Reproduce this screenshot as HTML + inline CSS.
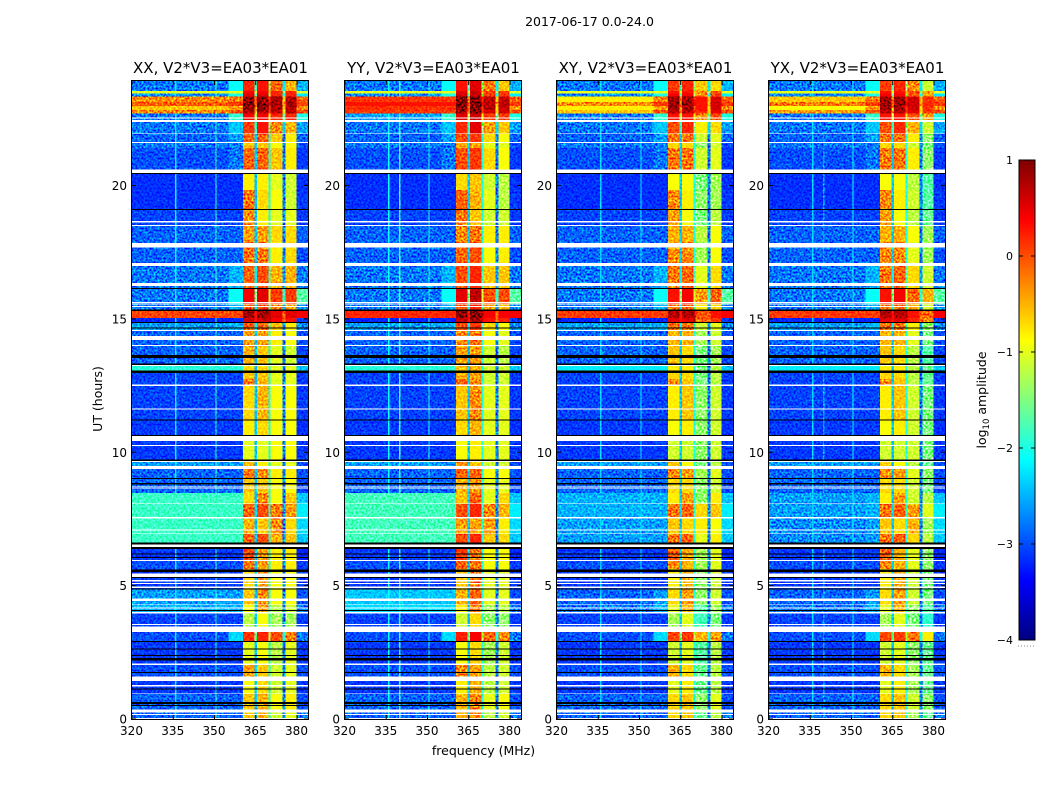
<!DOCTYPE html>
<html lang="en">
<head>
<meta charset="utf-8">
<title>2017-06-17 waterfall</title>
<style>
html,body{margin:0;padding:0;background:#fff;}
svg{display:block;}
text{font-family:"DejaVu Sans","Liberation Sans",sans-serif;fill:#000;}
</style>
</head>
<body>
<svg id="chart" xmlns="http://www.w3.org/2000/svg" width="1050" height="800" viewBox="0 0 1050 800">
<defs>
<linearGradient id="jetGradient" x1="0" y1="1" x2="0" y2="0"></linearGradient>
<filter id="speckle" x="0" y="0" width="100%" height="100%" color-interpolation-filters="sRGB">
<feTurbulence type="fractalNoise" baseFrequency="0.5" numOctaves="2" seed="7"/>
<feColorMatrix type="matrix" values="2.2 0 0 0 -0.6  2.2 0 0 0 -0.6  2.2 0 0 0 -0.6  0 0 0 0 1"/>
</filter>
</defs>
<rect x="0" y="0" width="1050" height="800" fill="#fff"/>
<text x="589.5" y="26" font-size="12.5" text-anchor="middle">2017-06-17 0.0-24.0</text>
<text x="483.5" y="755" font-size="12.5" text-anchor="middle">frequency (MHz)</text>
<text transform="translate(102,399) rotate(-90)" font-size="12.5" text-anchor="middle">UT (hours)</text>
<text transform="translate(986,400) rotate(-90)" font-size="12.5" text-anchor="middle">log<tspan font-size="8.5" dy="3">10</tspan><tspan dy="-3"> amplitude</tspan></text>
</svg>
<script>
// ---- chart data (log10 amplitude per time band, bottom to top) ----
const polarizations = ["XX", "YY", "XY", "YX"];
const panelTitles = ["XX, V2*V3=EA03*EA01", "YY, V2*V3=EA03*EA01", "XY, V2*V3=EA03*EA01", "YX, V2*V3=EA03*EA01"];
const freqTicks = [320, 335, 350, 365, 380];
const hourTicks = [0, 5, 10, 15, 20];
const colorTicks = [-4, -3, -2, -1, 0, 1];
const freqEdges = [320, 355, 360.4, 364.6, 365.4, 369.7, 370.4, 374.7, 375.8, 379.9, 384];
const hourEdges = [0,.34,.94,1.42,2.02,2.89,3.27,3.97,4.27,4.87,5.62,5.92,6.56,6.93,7.53,8.06,8.47,9.00,9.37,9.67,10.42,11.21,12.48,12.74,13.01,13.31,13.98,14.54,14.84,15.03,15.29,15.55,16.12,16.98,17.88,18.48,19.08,19.83,20.46,21.40,21.59,21.93,22.38,22.71,22.83,22.98,23.13,23.33,23.46,23.54,23.92];
const backgroundXX = [-2.9,-2.9,-3.1,-3,-3.1,-3,-3.05,-2.5,-2.6,-3.1,-3,-3.1,-1.85,-1.85,-1.85,-1.85,-2.9,-2.9,-2.6,-3.1,-3.1,-3.05,-3.05,-3.05,-1.95,-2.9,-2.9,-2.6,-3.2,.05,-2.8,-2.8,-2.8,-2.9,-2.9,-3.05,-3.15,-3.15,-3,-2.8,-2.9,-2.8,-2.8,-.3,-.6,-.05,-.3,-2.7,-1,-2.8];
const backgroundYY = [-2.9,-2.9,-3.1,-3,-3.1,-3,-3.05,-2.3,-2.4,-3.1,-3,-3.1,-1.8,-1.8,-1.8,-1.8,-2.9,-2.9,-2.6,-3.1,-3.1,-3.05,-3.05,-3.05,-1.95,-2.9,-2.9,-2.6,-3.2,.2,-2.8,-2.8,-2.8,-2.9,-2.9,-3.05,-3.15,-3.15,-3,-2.8,-2.9,-2.8,-2.6,.1,.15,.3,.1,-2.7,-1,-2.8];
const backgroundXY = [-2.9,-2.9,-3.1,-3,-3.1,-3,-3.05,-2.8,-2.9,-3.1,-3,-3.1,-2.6,-2.6,-2.5,-2.5,-2.9,-2.9,-2.6,-3.1,-3.1,-3.05,-3.05,-3.05,-2.2,-2.9,-2.9,-2.6,-3.2,.1,-2.8,-2.8,-2.8,-2.9,-2.9,-3.05,-3.15,-3.15,-3,-2.8,-2.9,-2.8,-2.8,-.6,-.8,-.3,-.8,-2.7,-1,-2.8];
const backgroundYX = [-2.9,-2.9,-3.1,-3,-3.1,-3,-3.05,-2.8,-2.9,-3.1,-3,-3.1,-2.7,-2.7,-2.6,-2.6,-2.9,-2.9,-2.6,-3.1,-3.1,-3.05,-3.05,-3.05,-2.2,-2.9,-2.9,-2.6,-3.2,.1,-2.8,-2.8,-2.8,-2.9,-2.9,-3.05,-3.15,-3.15,-3,-2.8,-2.9,-2.8,-2.8,-.4,-.9,-.2,-.6,-2.7,-1,-2.8];
const rampLevels = [-3.5,-3.5,-3.5,-3.5,-3.5,-2.3,-3.5,-2.5,-2.6,-3.5,-3.5,-3.5,-2.6,-2.6,-2.5,-2.5,-3.5,-3.5,-3.5,-3.5,-3.5,-3.5,-3.5,-3.5,-2.2,-3.5,-3.5,-2.5,-3.5,-.1,-2.5,-2.1,-2.5,-3.5,-3.5,-3.5,-3.5,-3.5,-2.8,-3.5,-2.6,-2.4,-1.9,0,-.4,.1,-.2,-2,-1,-2.1];
const bandA = [-.6,-.6,-.9,-.4,-1,.15,-1.2,-.9,-.6,-.7,-.2,0,-.1,-.5,-.1,-.7,-.6,-.2,-.5,-1,-.8,-.7,-.2,-.6,-.7,-.5,-.4,-.1,.6,.85,-.1,.4,-.1,-.2,-.4,-.3,-.2,-.8,-.1,-.6,-.1,.1,.4,.8,.9,1,.95,.5,.4,.2];
const bandB = [-.5,-.5,-.7,-.6,-.9,.2,-.9,-.4,-.3,-.4,-.4,-.4,0,-.6,0,-.3,-.6,-.3,-.8,-1,-.7,-.5,-.5,-.6,-.7,-.6,-.4,-.1,.6,.85,0,.5,0,-.2,-.4,-.8,-.7,-.8,-.1,-.6,-.1,.3,.4,.8,.9,1,.95,.5,.4,.3];
const bandC = [-1.1,-.9,-1.1,-1.1,-1.2,0,-1.3,-1.2,-.9,-.9,-.8,-.8,-.5,-.3,-.2,-.9,-.9,-.8,-1,-.9,-.9,-.9,-1,-1,-1,-1,-.8,-.6,.4,.5,-.3,.1,-.5,-.8,-.7,-1,-.9,-1,-.6,-.9,-.6,-.3,.2,.7,.8,.8,.8,.2,.2,-.1];
const bandD = [-1,-.8,-1,-1,-1,-.2,-1.3,-1.1,-.9,-.9,-.8,-.8,-.6,-.7,-.4,-.6,-.9,-.8,-1,-.9,-.9,-.9,-1,-1,-1,-1.1,-.9,-.8,.3,.5,-.5,.1,-.5,-.7,-.7,-1,-1.1,-1.1,-.8,-.9,-.8,-.5,.2,.7,.75,.8,.75,.2,.2,-.5];
const rightEdgeLevels = [-2.8,-3,-3.1,-3,-3.1,-2.8,-3.1,-2.8,-3,-3.1,-3.1,-3.2,-2.4,-2.3,-2.2,-2.4,-3.05,-3,-3,-3.1,-3.15,-3.1,-3.1,-3.1,-2.4,-3.05,-3,-2.7,-3.1,.4,-2.7,-1.7,-2.8,-3,-2.9,-3.1,-3.1,-3.15,-3.1,-3,-2.9,-2.6,-2,0,-.3,.1,-.1,-2.2,-1,-2.5];
const notchLevels = [-2.4,-2.4,-2.4,-2.4,-2.4,-1.6,-2.4,-2.4,-2.4,-2.4,-2.4,-2.4,-2.4,-2.4,-2.3,-2.4,-2.4,-2.4,-2.4,-2.4,-2.4,-2.4,-2.4,-2.4,-2.4,-2.4,-2.4,-2.2,.3,.3,-2.2,-1.5,-2.2,-2.4,-2.4,-2.4,-2.4,-2.4,-2.4,-2.4,-2.4,-1.9,-1.2,-.3,-.3,0,-.2,-1.7,-1,-1.8];
const notchOffsets = [0, .4, -.4];
const bandOffsetsXX = [0, 0, 0, 0];
const bandOffsetsYY = [.1, .2, -.1, -.1];
const bandOffsetsXY = [-.1, -.1, -.5, -.2];
const bandOffsetsYX = [-.1, -.1, -.2, -.6];
const rfiFreqs = [335.7, 339.7, 350.4];
const rfiWidth = 0.4;
const rfiLevelsXX = [-2.2, -3.5, -1.9];
const rfiLevelsYY = [-2.1, -1.9, -2];
const rfiLevelsXY = [-2.3, -3.5, -2.2];
const rfiLevelsYX = [-2.3, -2.6, -2.1];
const maskedStart = [0,.15,.24,.93,1.21,1.42,2.02,3.27,3.52,3.96,4.14,4.27,4.43,4.92,5.06,5.15,5.33,5.92,6.44,6.93,7.07,7.52,8.06,8.62,8.68,9.38,9.64,10.24,10.42,11.61,12.48,13.23,13.98,14.21,14.54,15.44,15.57,16.23,16.98,17.68,18.48,18.61,20.46,21.59,21.93,22.39,22.51];
const maskedEnd = [.04,.19,.36,.96,1.27,1.59,2.09,3.46,3.56,4.01,4.18,4.30,4.52,4.96,5.10,5.21,5.46,5.96,6.55,6.96,7.10,7.58,8.08,8.65,8.71,9.48,9.68,10.28,10.61,11.65,12.55,13.28,14.02,14.36,14.58,15.48,15.64,16.35,17.10,17.85,18.53,18.67,20.60,21.63,21.96,22.45,22.56];
const zeroStart = [.5,.56,.60,1.11,1.74,2.19,2.36,2.61,2.89,4.05,4.86,5.29,5.51,6.05,6.17,6.37,6.55,8.80,9.0,9.68,10.61,11.2,12.98,13.28,13.54,14.64,14.84,15.29,16.12,19.08,20.45];
const zeroEnd = [.53,.60,.64,1.15,1.77,2.28,2.40,2.65,2.93,4.09,4.90,5.33,5.61,6.08,6.20,6.44,6.62,8.85,9.04,9.73,10.65,11.23,13.06,13.33,13.64,14.67,14.88,15.35,16.15,19.12,20.48];

const backgroundByPol = {XX: backgroundXX, YY: backgroundYY, XY: backgroundXY, YX: backgroundYX};
const bandOffsetsByPol = {XX: bandOffsetsXX, YY: bandOffsetsYY, XY: bandOffsetsXY, YX: bandOffsetsYX};
const rfiLevelsByPol = {XX: rfiLevelsXX, YY: rfiLevelsYY, XY: rfiLevelsXY, YX: rfiLevelsYX};

// ---- layout & scales ----
const NS = "http://www.w3.org/2000/svg";
const svg = document.getElementById("chart");
const plotTop = 81, plotBottom = 719, plotWidth = 176;
const panelLefts = [132, 345, 557, 769];
const freqMin = 320, freqMax = 384, hourMax = 23.92;
const colorMin = -4, colorMax = 1;
function xScale(left, f) { return left + (f - freqMin) / (freqMax - freqMin) * plotWidth; }
function yScale(h) { return plotBottom - h / hourMax * (plotBottom - plotTop); }
function clip01(v) { return Math.max(0, Math.min(1, v)); }
function jet(x) {
  const t = clip01(x);
  const r = clip01(1.5 - Math.abs(4 * t - 3));
  const g = clip01(1.5 - Math.abs(4 * t - 2));
  const b = clip01(1.5 - Math.abs(4 * t - 1));
  return "rgb(" + Math.round(r * 255) + "," + Math.round(g * 255) + "," + Math.round(b * 255) + ")";
}
function colorOf(v) { return jet((v - colorMin) / (colorMax - colorMin)); }
function make(tag, attrs, parent) {
  const el = document.createElementNS(NS, tag);
  for (const k in attrs) el.setAttribute(k, attrs[k]);
  (parent || svg).appendChild(el);
  return el;
}
function minusText(v) { return v < 0 ? "\u2212" + Math.abs(v) : String(v); }

polarizations.forEach(function (pol, p) {
  const left = panelLefts[p];
  const g = make("g", {"shape-rendering": "crispEdges"});
  
  
  const bg = backgroundByPol[pol];
  const off = bandOffsetsByPol[pol];
  const rfi = rfiLevelsByPol[pol];
  for (let r = 0; r < hourEdges.length - 1; r++) {
    const levels = [
      bg[r],
      Math.max(bg[r], rampLevels[r]),
      bandA[r] + off[0],
      notchLevels[r] + notchOffsets[0],
      bandB[r] + off[1],
      notchLevels[r] + notchOffsets[1],
      bandC[r] + off[2],
      notchLevels[r] + notchOffsets[2],
      bandD[r] + off[3],
      rightEdgeLevels[r]
    ];
    const y1 = yScale(hourEdges[r + 1]), y0 = yScale(hourEdges[r]);
    levels.forEach(function (v, c) {
      const x0 = xScale(left, freqEdges[c]), x1 = xScale(left, freqEdges[c + 1]);
      const cell = make("rect", {x: x0.toFixed(2), y: y1.toFixed(2), width: (x1 - x0).toFixed(2), height: (y0 - y1).toFixed(2), fill: colorOf(v)}, g);
      
      
    });
    rfiFreqs.forEach(function (f, k) {
      if (rfi[k] > bg[r] + 0.2) {
        const x0 = xScale(left, f);
        const line = make("rect", {x: x0.toFixed(2), y: y1.toFixed(2), width: (rfiWidth / (freqMax - freqMin) * plotWidth).toFixed(2), height: (y0 - y1).toFixed(2), fill: colorOf(rfi[k])}, g);
        
        
      }
    });
  }
  const texture = make("rect", {x: left, y: plotTop, width: plotWidth, height: plotBottom - plotTop, filter: "url(#speckle)", style: "mix-blend-mode:overlay"});
  
  
  const flags = make("g", {"shape-rendering": "crispEdges"});
  
  
  maskedStart.forEach(function (h, i) {
    const y1 = yScale(maskedEnd[i]), y0 = yScale(h);
    const m = make("rect", {x: left, y: y1.toFixed(2), width: plotWidth, height: (y0 - y1).toFixed(2), fill: "#fff"}, flags);
    
    
  });
  zeroStart.forEach(function (h, i) {
    const y1 = yScale(zeroEnd[i]), y0 = yScale(h);
    const m = make("rect", {x: left, y: y1.toFixed(2), width: plotWidth, height: Math.max(y0 - y1, 1).toFixed(2), fill: "#000"}, flags);
    
    
  });

  const frame = make("rect", {x: left - 0.5, y: plotTop - 0.5, width: plotWidth + 1, height: plotBottom - plotTop + 1, fill: "none", stroke: "#000", "stroke-width": 1});
  
  

  const title = make("text", {x: left + plotWidth / 2 + 0.5, y: 73, "font-size": 15, "text-anchor": "middle"});
  
  
  title.textContent = panelTitles[p];

  freqTicks.forEach(function (f) {
    const x = xScale(left, f);
    const t1 = make("line", {x1: x, x2: x, y1: plotBottom, y2: plotBottom - 4, stroke: "#000", "stroke-width": 1});
    
    
    const t2 = make("line", {x1: x, x2: x, y1: plotTop, y2: plotTop + 4, stroke: "#000", "stroke-width": 1});
    
    
    const lab = make("text", {x: x - 0.5, y: 735, "font-size": 12, "text-anchor": "middle"});
    
    
    lab.textContent = f;
  });
  hourTicks.forEach(function (h) {
    const y = yScale(h);
    const t1 = make("line", {x1: left, x2: left + 4, y1: y, y2: y, stroke: "#000", "stroke-width": 1});
    
    
    const t2 = make("line", {x1: left + plotWidth, x2: left + plotWidth - 4, y1: y, y2: y, stroke: "#000", "stroke-width": 1});
    
    
    const lab = make("text", {x: left - 5, y: y + 4.5, "font-size": 12, "text-anchor": "end"});
    
    
    lab.textContent = h;
  });
});

// ---- colorbar ----
const cbLeft = 1019, cbWidth = 16, cbTop = 160, cbBottom = 640;
function cbY(v) { return cbBottom - (v - colorMin) / (colorMax - colorMin) * (cbBottom - cbTop); }
const grad = document.getElementById("jetGradient");
for (let i = 0; i <= 32; i++) {
  const stop = document.createElementNS(NS, "stop");
  stop.setAttribute("offset", (i / 32 * 100) + "%");
  stop.setAttribute("stop-color", jet(i / 32));
  grad.appendChild(stop);
}
const cbBar = make("rect", {x: cbLeft, y: cbTop, width: cbWidth, height: cbBottom - cbTop, fill: "url(#jetGradient)", stroke: "#000", "stroke-width": 1});


colorTicks.forEach(function (v) {
  const y = cbY(v);
  const a = make("line", {x1: cbLeft, x2: cbLeft + 4, y1: y, y2: y, stroke: "#000", "stroke-width": 1});
  
  
  const b = make("line", {x1: cbLeft + cbWidth, x2: cbLeft + cbWidth - 4, y1: y, y2: y, stroke: "#000", "stroke-width": 1});
  
  
  const lab = make("text", {x: 1013, y: y + 4, "font-size": 11, "text-anchor": "end"});
  
  
  lab.textContent = minusText(v);
});
const cbDots = make("line", {x1: 1018, x2: 1035, y1: 646, y2: 646, stroke: "#888", "stroke-width": 1, "stroke-dasharray": "1 2"});


</script>
</body>
</html>
